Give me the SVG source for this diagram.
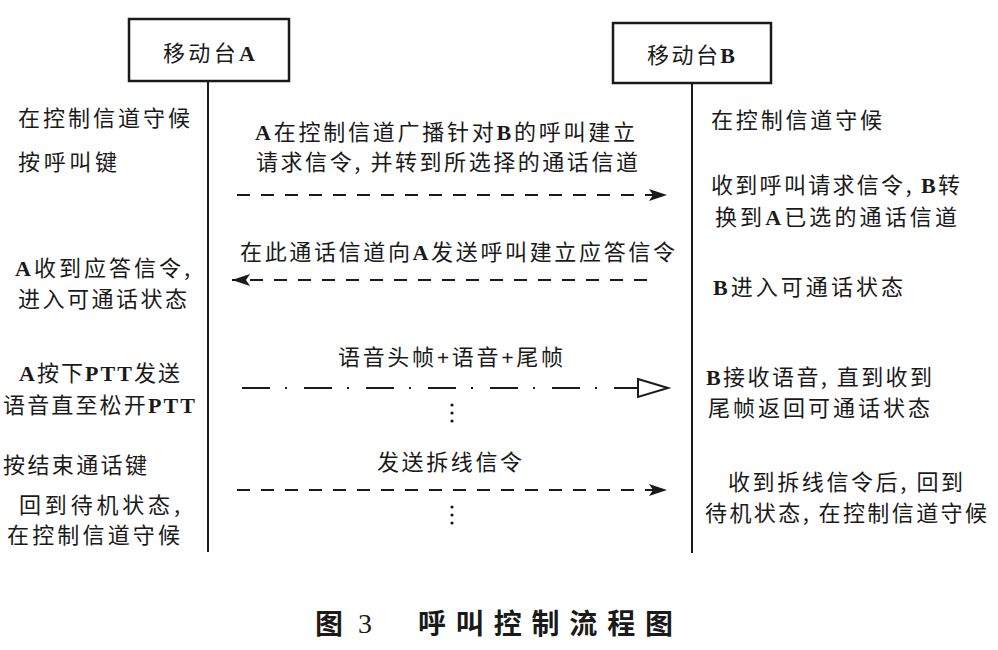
<svg xmlns="http://www.w3.org/2000/svg" width="998" height="650" viewBox="0 0 998 650">
<style>
.t{font-family:"Liberation Serif","Noto Sans CJK SC",serif;font-size:22px;fill:#1a1a1a}
.cj{font-family:"Noto Sans CJK SC","Liberation Serif",sans-serif}
.l{font-family:"Liberation Serif",serif;font-weight:bold}
.box{fill:#fff;stroke:#1a1a1a;stroke-width:2.5}
.life{stroke:#1a1a1a;stroke-width:2}
.dash{stroke:#1a1a1a;stroke-width:2;stroke-dasharray:13 11;fill:none}
.dd{stroke:#1a1a1a;stroke-width:2;stroke-dasharray:28 15 2 17;fill:none}
.cap{font-family:"Noto Sans CJK SC",sans-serif;font-size:28px;font-weight:bold;fill:#1a1a1a}
</style>
<defs>
<marker id="ah" markerUnits="userSpaceOnUse" markerWidth="20" markerHeight="14" refX="18" refY="7" orient="auto">
<path d="M0,1 L18,7 L0,13 L4,7 z" fill="#1a1a1a"/>
</marker>
</defs>
<rect width="998" height="650" fill="#fff"/>

<g id="nodeA">
<rect class="box" x="129" y="19" width="160" height="62"/>
<text class="t cj" x="163" y="61" textLength="92" lengthAdjust="spacing">移动台<tspan class="l">A</tspan></text>
<line class="life" x1="208" y1="81" x2="208" y2="552"/>
</g>
<g id="nodeB">
<rect class="box" x="613" y="23" width="158" height="60"/>
<text class="t cj" x="647" y="63" textLength="88" lengthAdjust="spacing">移动台<tspan class="l">B</tspan></text>
<line class="life" x1="692" y1="83" x2="692" y2="553"/>
</g>

<g id="textsA" class="t cj">
<text x="18" y="126" textLength="172" lengthAdjust="spacing">在控制信道守候</text>
<text x="18" y="170" textLength="99" lengthAdjust="spacing">按呼叫键</text>
<text x="15" y="276" textLength="175" lengthAdjust="spacing"><tspan class="l">A</tspan>收到应答信令,</text>
<text x="18" y="307" textLength="169" lengthAdjust="spacing">进入可通话状态</text>
<text x="19" y="381" textLength="161" lengthAdjust="spacing"><tspan class="l">A</tspan>按下<tspan class="l">PTT</tspan>发送</text>
<text x="3" y="413" textLength="192" lengthAdjust="spacing">语音直至松开<tspan class="l">PTT</tspan></text>
<text x="3" y="473" textLength="144" lengthAdjust="spacing">按结束通话键</text>
<text x="19" y="513" textLength="161" lengthAdjust="spacing">回到待机状态,</text>
<text x="7" y="543" textLength="173" lengthAdjust="spacing">在控制信道守候</text>
</g>

<g id="textsB" class="t cj">
<text x="711" y="128" textLength="171" lengthAdjust="spacing">在控制信道守候</text>
<text x="711" y="193" textLength="249" lengthAdjust="spacing">收到呼叫请求信令, <tspan class="l">B</tspan>转</text>
<text x="715" y="225" textLength="242" lengthAdjust="spacing">换到<tspan class="l">A</tspan>已选的通话信道</text>
<text x="713" y="295" textLength="190" lengthAdjust="spacing"><tspan class="l">B</tspan>进入可通话状态</text>
<text x="706" y="385" textLength="226" lengthAdjust="spacing"><tspan class="l">B</tspan>接收语音, 直到收到</text>
<text x="708" y="416" textLength="222" lengthAdjust="spacing">尾帧返回可通话状态</text>
<text x="728" y="490" textLength="235" lengthAdjust="spacing">收到拆线信令后, 回到</text>
<text x="705" y="521" textLength="282" lengthAdjust="spacing">待机状态, 在控制信道守候</text>
</g>

<g id="connectors">
<line class="dash" x1="237" y1="195" x2="667" y2="195" marker-end="url(#ah)"/>
<line class="dash" x1="647" y1="280" x2="232" y2="280" marker-end="url(#ah)"/>
<line class="dd" x1="242" y1="388" x2="638" y2="388"/>
<polygon points="638,379 668,388 638,397" fill="#fff" stroke="#1a1a1a" stroke-width="2"/>
<line class="dash" x1="237" y1="490" x2="667" y2="490" marker-end="url(#ah)"/>
<circle cx="452" cy="405" r="1.6" fill="#1a1a1a"/>
<circle cx="452" cy="413" r="1.6" fill="#1a1a1a"/>
<circle cx="452" cy="421" r="1.6" fill="#1a1a1a"/>
<circle cx="452" cy="507" r="1.6" fill="#1a1a1a"/>
<circle cx="452" cy="515" r="1.6" fill="#1a1a1a"/>
<circle cx="452" cy="523" r="1.6" fill="#1a1a1a"/>
</g>

<g id="labels" class="t cj">
<text x="255" y="140" textLength="380" lengthAdjust="spacing"><tspan class="l">A</tspan>在控制信道广播针对<tspan class="l">B</tspan>的呼叫建立</text>
<text x="256" y="170" textLength="382" lengthAdjust="spacing">请求信令, 并转到所选择的通话信道</text>
<text x="240" y="260" textLength="435" lengthAdjust="spacing">在此通话信道向<tspan class="l">A</tspan>发送呼叫建立应答信令</text>
<text x="338" y="365" textLength="225" lengthAdjust="spacing">语音头帧<tspan class="l">+</tspan>语音<tspan class="l">+</tspan>尾帧</text>
<text x="377" y="470" textLength="145" lengthAdjust="spacing">发送拆线信令</text>
</g>

<g id="caption">
<text class="cap" x="315" y="634">图</text>
<text x="358" y="633" style="font-family:'Liberation Serif',serif;font-size:28px;fill:#1a1a1a">3</text>
<text class="cap" x="418" y="634" textLength="255" lengthAdjust="spacing">呼叫控制流程图</text>
</g>
</svg>
